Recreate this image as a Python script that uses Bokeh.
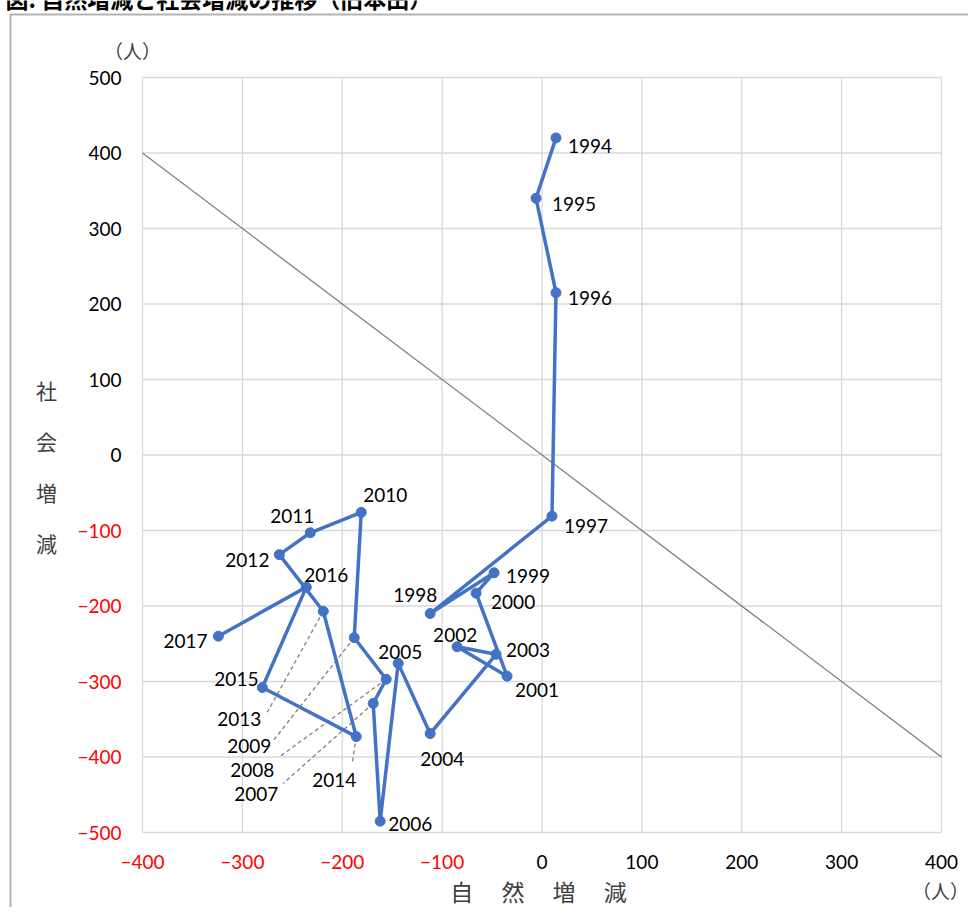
from bokeh.plotting import figure
from bokeh.models import (Range1d, LinearAxis, FixedTicker, Label,
                          BoxAnnotation, ColumnDataSource)
from bokeh.core.properties import value
from bokeh.embed import file_html
from bokeh.resources import INLINE

# ---------------- data ----------------
years = [1994, 1995, 1996, 1997, 1998, 1999, 2000, 2001, 2002, 2003, 2004, 2005,
         2006, 2007, 2008, 2009, 2010, 2011, 2012, 2013, 2014, 2015, 2016, 2017]
natural = [14, -6, 14, 10, -112, -48, -66, -35, -85, -46, -112, -144,
           -162, -169, -156, -188, -181, -232, -263, -219, -186, -280, -236, -324]
social = [420, 340, 215, -81, -210, -156, -183, -293, -254, -264, -369, -276,
          -485, -329, -297, -242, -76, -103, -132, -207, -373, -308, -175, -240]

x_ticks = [-400, -300, -200, -100, 0, 100, 200, 300, 400]
y_ticks = [-500, -400, -300, -200, -100, 0, 100, 200, 300, 400, 500]

diag_x = [-400, 400]
diag_y = [400, -400]

title_text = "図. 自然増減と社会増減の推移（旧本田）"
x_title = "自　 然　 増　 減"
y_title = "社\n会\n増\n減"
unit_text = "（人）"

# ---------------- styles / positions (pixels) ----------------
label_dx = [12, 16, 12, 12, -37, 12, 15, 8, -24, 10, -10, -20,
            8, -139, -156, -127, 2, -40, -54, -106, -44, -48, -2, -55]
label_dy = [8, 6, 5, 10, -19, 3, 9, 14, -12, -4, 25, -11,
            3, 91, 91, 108, -17, -17, 5, 108, 43, -9, -12, 5]
leader_years = [2013, 2009, 2008, 2007, 2014]
leader_dx = [-56, -81, -106, -90, -4]
leader_dy = [101, 103, 77, 80, 27]

W, H = 968, 907
FL, FR, FT, FB = 142, 941, 77, 832          # plot area inside the canvas
XMIN, XMAX = x_ticks[0], x_ticks[-1]
YMIN, YMAX = y_ticks[0], y_ticks[-1]
sx = (FR - FL) / (XMAX - XMIN)
sy = (FB - FT) / (YMAX - YMIN)


def xd(cx):
    return XMIN + (cx - FL) / sx


def yd(cy):
    return YMAX - (cy - FT) / sy


LAT = "Lato"
CJK = "Noto Sans CJK JP"
BLUE = "#4472C4"
GRID = "#d9d9d9"

p = figure(frame_width=W, frame_height=H,
           min_border_left=0, min_border_right=0,
           min_border_top=0, min_border_bottom=0,
           x_range=Range1d(xd(0), xd(W)), y_range=Range1d(yd(H), yd(0)),
           x_axis_location=None, y_axis_location=None,
           output_backend="svg", toolbar_location=None, tools="")
p.background_fill_color = "white"
p.border_fill_color = "white"
p.outline_line_color = None
p.xgrid.visible = False
p.ygrid.visible = False

# grid lines limited to the plot area
p.segment(x0=x_ticks, y0=[YMIN] * len(x_ticks), x1=x_ticks,
          y1=[YMAX] * len(x_ticks), line_color=GRID, line_width=1.3)
p.segment(x0=[XMIN] * len(y_ticks), y0=y_ticks, x1=[XMAX] * len(y_ticks),
          y1=y_ticks, line_color=GRID, line_width=1.3)


def make_axis(ticks, color, loc, standoff):
    ax = LinearAxis(ticker=FixedTicker(ticks=ticks), fixed_location=loc)
    ax.axis_line_color = None
    ax.major_tick_line_color = None
    ax.minor_tick_line_color = None
    ax.major_tick_in = 0
    ax.major_tick_out = 0
    ax.major_label_text_color = color
    ax.major_label_text_font = LAT
    ax.major_label_text_font_size = "19px"
    ax.major_label_standoff = standoff
    return ax


p.add_layout(make_axis([t for t in x_ticks if t < 0], "#FF0000", YMIN, 22), "below")
p.add_layout(make_axis([t for t in x_ticks if t >= 0], "#000000", YMIN, 22), "below")
p.add_layout(make_axis([t for t in y_ticks if t < 0], "#FF0000", XMIN, 21), "left")
p.add_layout(make_axis([t for t in y_ticks if t >= 0], "#000000", XMIN, 21), "left")

# diagonal reference line
p.line(diag_x, diag_y, line_color="#7f7f7f", line_width=1.3)

# leader lines
lx0, ly0, lx1, ly1 = [], [], [], []
for yr, dx, dy in zip(leader_years, leader_dx, leader_dy):
    i = years.index(yr)
    lx0.append(natural[i])
    ly0.append(social[i])
    lx1.append(natural[i] + dx / sx)
    ly1.append(social[i] - dy / sy)
p.segment(lx0, ly0, lx1, ly1, line_color="#808080", line_width=1.3,
          line_dash="4 3")

src = ColumnDataSource(dict(x=natural, y=social, t=[str(y) for y in years],
                            dx=label_dx, dy=label_dy))
p.line("x", "y", source=src, line_color=BLUE, line_width=3.5,
       line_join="round")
p.scatter("x", "y", source=src, size=10, fill_color=BLUE, line_color=BLUE)
p.text("x", "y", text="t", source=src, x_offset="dx", y_offset="dy",
       text_font=value(LAT), text_font_size="19px", text_color="#000000",
       text_align="left", text_baseline="middle")

# title (cut off at the top edge, as in the source image)
p.add_layout(Label(x=xd(5), y=yd(-3), text=title_text, text_font=CJK,
                   text_font_size="23px", text_font_style="bold",
                   text_align="left", text_baseline="middle",
                   text_color="#000000"))

# axis titles and units
p.add_layout(Label(x=xd(132), y=yd(50), text=unit_text, text_font=CJK,
                   text_font_size="19px", text_align="center",
                   text_baseline="middle", text_color="#404040"))
p.add_layout(Label(x=xd(940), y=yd(890), text=unit_text, text_font=CJK,
                   text_font_size="19px", text_align="center",
                   text_baseline="middle", text_color="#404040"))
p.add_layout(Label(x=xd(46), y=yd(466), text=y_title, text_font=CJK,
                   text_font_size="21px", text_align="center",
                   text_baseline="middle", text_line_height=1.7,
                   text_color="#404040"))
p.add_layout(Label(x=xd(538), y=yd(890), text=x_title, text_font=CJK,
                   text_font_size="23px", text_align="center",
                   text_baseline="middle", text_color="#404040"))

# outer chart border
p.add_layout(BoxAnnotation(left=xd(10), right=xd(W + 50), top=yd(14),
                           bottom=yd(H + 50), fill_alpha=0, line_color="black",
                           line_width=2))

open("out.html", "w").write(file_html(p, INLINE))
